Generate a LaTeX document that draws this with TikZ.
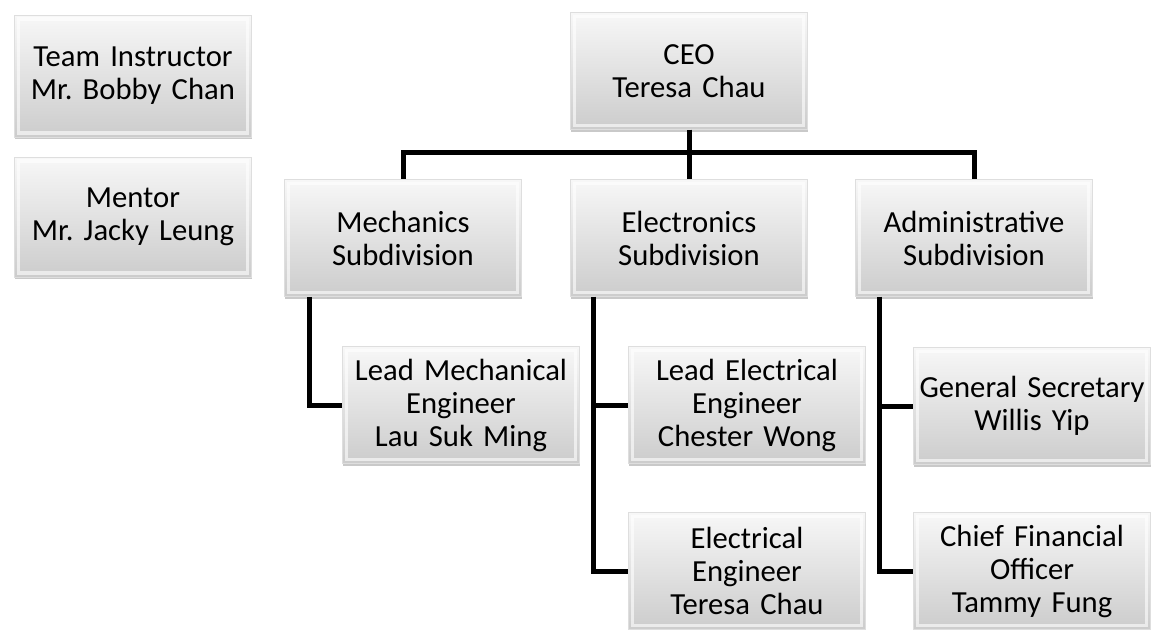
\documentclass[tikz,border=0pt]{standalone}
\usepackage{fontspec}
\setmainfont{Carlito}
\frenchspacing
\usetikzlibrary{shadows,calc}
\definecolor{ylavari}{rgb}{0.97, 0.97, 0.97}
\definecolor{alavari}{rgb}{0.80, 0.80, 0.80}
\definecolor{reuna}{rgb}{0.87, 0.87, 0.87}
\tikzset{
	laatikko/.style={rectangle, draw=reuna, line width=0.4pt,
		top color=ylavari, bottom color=alavari,
		minimum width=177.75pt, minimum height=87.75pt,
		text width=176pt, align=center, inner sep=0pt,
		font=\fontsize{23}{24.75}\selectfont,
		drop shadow={shadow xshift=0.6pt, shadow yshift=-1.8pt, opacity=0.35, fill=black!60},
		path picture={\draw[white, opacity=0.6, line width=2.5pt]
			([shift={(3pt,-3pt)}]path picture bounding box.north west) rectangle
			([shift={(-3pt,3pt)}]path picture bounding box.south east);}},
	viiva/.style={line width=3.75pt, black}
}
\begin{document}
\begin{tikzpicture}[x=0.75pt, y=-0.75pt]
				\useasboundingbox[fill=white] (0,0) rectangle (1152,629);
				\node[laatikko, minimum height=91.5pt] (ohjaaja) at (133,76) {Team Instructor\\Mr. Bobby Chan};
				\node[laatikko, minimum height=90pt] (mentori) at (133,217) {Mentor\\Mr. Jacky Leung};
				\node[laatikko] (ceo) at (689,71) {CEO\\Teresa Chau};
				\node[laatikko] (mekaniikka) at (403,238) {Mechanics\\Subdivision};
				\node[laatikko] (elektroniikka) at (689,238) {Electronics\\Subdivision};
				\node[laatikko] (hallinto) at (974,238) {Administrative\\Subdivision};
				\node[laatikko] (mekinsinoori) at (461,405) {Lead Mechanical\\Engineer\\Lau Suk Ming};
				\node[laatikko] (sahkojohtaja) at (747,405) {Lead Electrical\\Engineer\\Chester Wong};
				\node[laatikko] (sahkoinsinoori) at (747,571) {Electrical\\Engineer\\Teresa Chau};
				\node[laatikko] (sihteeri) at (1032,406) {General Secretary\\Willis Yip};
				\node[laatikko] (talous) at (1032,571) {Chief Financial\\Officer\\Tammy Fung};
				\draw[viiva] (ceo.south) -- ++(0,23) -| (mekaniikka.north);
				\draw[viiva] (ceo.south) -- ++(0,23) -| (hallinto.north);
				\draw[viiva] (ceo.south) -- (elektroniikka.north);
				\draw[viiva] ($(mekaniikka.south west)+(25,0)$) |- (mekinsinoori.west);
				\draw[viiva] ($(elektroniikka.south west)+(23,0)$) |- (sahkojohtaja.west);
				\draw[viiva] ($(elektroniikka.south west)+(23,0)$) |- (sahkoinsinoori.west);
				\draw[viiva] ($(hallinto.south west)+(24,0)$) |- (sihteeri.west);
				\draw[viiva] ($(hallinto.south west)+(24,0)$) |- (talous.west);
			\end{tikzpicture}
\end{document}
